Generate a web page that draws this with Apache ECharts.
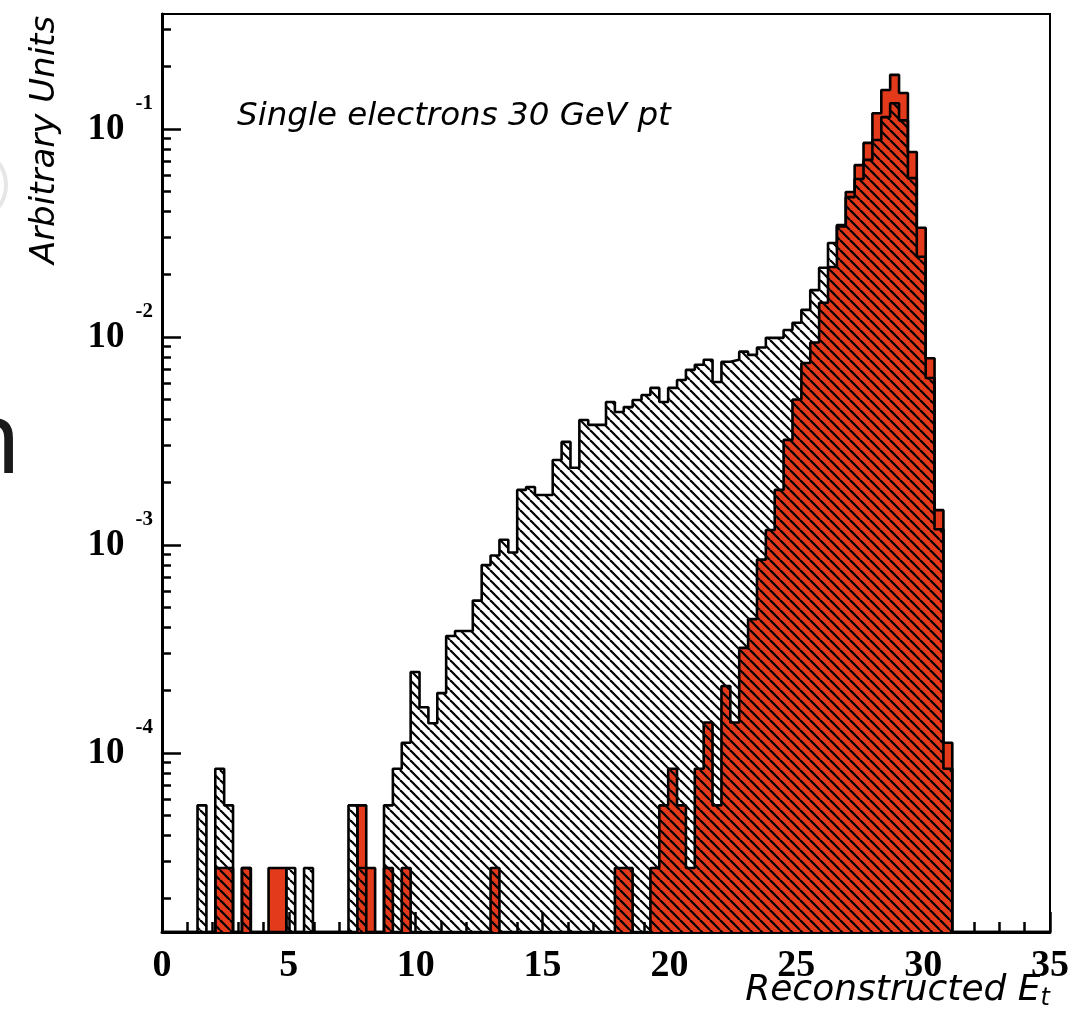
<!DOCTYPE html>
<html><head><meta charset="utf-8">
<script src="https://cdn.jsdelivr.net/npm/echarts@6/dist/echarts.min.js"></script>
<style>html,body{margin:0;padding:0;background:#fff}#c{width:1085px;height:1011px}</style>
</head><body><div id="c"></div>
<script>
// ---- data (100 bins of 0.35 GeV from 0 to 35) ----
const BIN_START = 0;
const BIN_WIDTH = 0.35;
// white hatched histogram
const WHITE = [
  0, 0, 0, 0, 5.6e-5, 0, 8.4e-5, 5.6e-5, 0, 2.8e-5,
  0, 0, 0, 0, 2.8e-5, 0, 2.8e-5, 0, 0, 0,
  0, 5.6e-5, 2.8e-5, 0, 0, 5.6e-5, 8.4e-5, 1.12e-4, 2.45e-4, 1.66e-4,
  1.39e-4, 1.94e-4, 3.65e-4, 3.86e-4, 3.86e-4, 5.4e-4, 8.0e-4, 8.9e-4, 1.06e-3, 9.2e-4,
  1.84e-3, 1.9e-3, 1.74e-3, 1.74e-3, 2.56e-3, 3.13e-3, 2.35e-3, 3.99e-3, 3.78e-3, 3.78e-3,
  4.87e-3, 4.36e-3, 4.6e-3, 4.98e-3, 5.26e-3, 5.69e-3, 4.87e-3, 5.69e-3, 6.21e-3, 6.95e-3,
  7.35e-3, 7.77e-3, 6.07e-3, 7.6e-3, 7.77e-3, 8.5e-3, 8.2e-3, 8.9e-3, 9.9e-3, 9.9e-3,
  1.08e-2, 1.17e-2, 1.35e-2, 1.68e-2, 2.15e-2, 2.83e-2, 3.4e-2, 4.7e-2, 5.75e-2, 7.1e-2,
  8.85e-2, 0.114, 0.133, 0.11, 5.8e-2, 2.43e-2, 6.35e-3, 1.19e-3, 8.4e-5, 0,
  0, 0, 0, 0, 0, 0, 0, 0, 0, 0
];
// solid red histogram
const RED = [
  0, 0, 0, 0, 0, 0, 2.8e-5, 2.8e-5, 0, 2.8e-5,
  0, 0, 2.8e-5, 2.8e-5, 0, 0, 0, 0, 0, 0,
  0, 0, 5.6e-5, 2.8e-5, 0, 2.8e-5, 0, 2.8e-5, 0, 0,
  0, 0, 0, 0, 0, 0, 0, 2.8e-5, 0, 0,
  0, 0, 0, 0, 0, 0, 0, 0, 0, 0,
  0, 2.8e-5, 2.8e-5, 0, 0, 2.8e-5, 5.6e-5, 8.4e-5, 5.6e-5, 2.8e-5,
  8.4e-5, 1.4e-4, 5.6e-5, 2.1e-4, 1.4e-4, 3.2e-4, 4.4e-4, 8.5e-4, 1.18e-3, 1.84e-3,
  3.2e-3, 5.0e-3, 7.5e-3, 9.4e-3, 1.46e-2, 2.17e-2, 3.45e-2, 4.98e-2, 6.7e-2, 8.57e-2,
  0.119, 0.154, 0.182, 0.149, 7.75e-2, 3.35e-2, 7.9e-3, 1.47e-3, 1.12e-4, 0,
  0, 0, 0, 0, 0, 0, 0, 0, 0, 0
];
const X_MIN = 0, X_MAX = 35, X_STEP = 5;
const Y_MIN = 1.378e-5, Y_MAX = 0.357;
const Y_MAJOR = [1e-4, 1e-3, 1e-2, 1e-1];
const Y_MINOR = [2e-5,3e-5,4e-5,5e-5,6e-5,7e-5,8e-5,9e-5,
  2e-4,3e-4,4e-4,5e-4,6e-4,7e-4,8e-4,9e-4,
  2e-3,3e-3,4e-3,5e-3,6e-3,7e-3,8e-3,9e-3,
  2e-2,3e-2,4e-2,5e-2,6e-2,7e-2,8e-2,9e-2,
  2e-1,3e-1];
const TITLE = 'Single electrons 30 GeV pt';
const X_TITLE = 'Reconstructed E';
const X_TITLE_SUB = 't';
const Y_TITLE = 'Arbitrary Units';

// ---- build ----
function stepPoints(vals) {
  const pts = [];
  for (let i = 0; i < vals.length; i++) {
    pts.push([BIN_START + i * BIN_WIDTH, vals[i] > 0 ? vals[i] : Y_MIN]);
  }
  const last = vals[vals.length - 1];
  pts.push([BIN_START + vals.length * BIN_WIDTH, last > 0 ? last : Y_MIN]);
  return pts;
}
function hatchCanvas(P, lw) {
  const c = document.createElement('canvas');
  c.width = P; c.height = P;
  const g = c.getContext('2d');
  g.strokeStyle = '#000'; g.lineWidth = lw;
  for (let k = -1; k <= 1; k++) {
    g.beginPath(); g.moveTo(k * P, 0); g.lineTo(k * P + P, P); g.stroke();
  }
  return c;
}
const hatch = { image: hatchCanvas(10, 2.2), repeat: 'repeat' };
const RED_COLOR = '#e33a1c';
const serif = '"Liberation Serif", "Times New Roman", serif';
const sans = '"DejaVu Sans", sans-serif';

const chart = echarts.init(document.getElementById('c'), null, { renderer: 'canvas' });
chart.setOption({
  animation: false,
  backgroundColor: '#fff',
  grid: { left: 162, top: 14, width: 888, height: 918, show: true, borderColor: '#000', borderWidth: 2, backgroundColor: 'transparent' },
  xAxis: {
    type: 'value', min: X_MIN, max: X_MAX, interval: X_STEP,
    axisLine: { show: true, onZero: false, lineStyle: { color: '#000', width: 3 } },
    axisTick: { show: true, inside: true, length: 20, lineStyle: { color: '#000', width: 2.5 } },
    minorTick: { show: true, splitNumber: 5, length: 10, lineStyle: { color: '#000', width: 2.5 } },
    axisLabel: { color: '#000', fontFamily: serif, fontWeight: 'bold', fontSize: 38, margin: 15 },
    splitLine: { show: false }
  },
  yAxis: [{
    type: 'log', logBase: 10, min: Y_MIN, max: Y_MAX,
    axisLine: { show: true, onZero: false, lineStyle: { color: '#000', width: 3 } },
    axisTick: { show: true, inside: true, length: 19, customValues: Y_MAJOR, lineStyle: { color: '#000', width: 2.5 } },
    axisLabel: {
      customValues: Y_MAJOR, margin: 9, color: '#000',
      formatter: function (v) {
        const e = Math.log10(v), r = Math.round(e);
        if (Math.abs(e - r) > 1e-6) return '';
        return '{b|10}{s|' + r + '}';
      },
      rich: {
        b: { fontFamily: serif, fontWeight: 'bold', fontSize: 37, lineHeight: 72, verticalAlign: 'middle', color: '#000' },
        s: { fontFamily: serif, fontWeight: 'bold', fontSize: 21, verticalAlign: 'top', padding: [0, 0, 0, 11], color: '#000' }
      }
    },
    splitLine: { show: false }
  }, {
    type: 'log', logBase: 10, min: Y_MIN, max: Y_MAX, position: 'left',
    axisLine: { show: false },
    axisTick: { show: true, inside: true, length: 9, customValues: Y_MINOR, lineStyle: { color: '#000', width: 2.5 } },
    axisLabel: { show: false },
    splitLine: { show: false }
  }],
  series: [{
    name: 'red', type: 'line', step: 'end', yAxisIndex: 0, symbol: 'none', z: 2,
    data: stepPoints(RED),
    lineStyle: { color: '#000', width: 2.6 },
    areaStyle: { color: RED_COLOR, opacity: 1, origin: 'start' }
  }, {
    name: 'white', type: 'line', step: 'end', yAxisIndex: 0, symbol: 'none', z: 3,
    data: stepPoints(WHITE),
    lineStyle: { color: '#000', width: 2.6 },
    areaStyle: { color: hatch, opacity: 1, origin: 'start' }
  }],
  graphic: [
    { type: 'text', x: 237, y: 117, style: { text: TITLE, font: 'italic 32.5px ' + sans, fill: '#000', align: 'left', verticalAlign: 'middle' } },
    { type: 'text', x: 1050, y: 991, style: {
        text: '{a|' + X_TITLE + '}{t|' + X_TITLE_SUB + '}', align: 'right', verticalAlign: 'middle',
        rich: {
          a: { fontFamily: sans, fontStyle: 'italic', fontSize: 36, lineHeight: 40, verticalAlign: 'middle', fill: '#000', color: '#000' },
          t: { fontFamily: sans, fontStyle: 'italic', fontSize: 24, verticalAlign: 'bottom', fill: '#000', color: '#000' }
        } } },
    { type: 'text', x: 45, y: 140, rotation: Math.PI / 2, style: { text: Y_TITLE, font: 'italic 34px ' + sans, fill: '#000', align: 'center', verticalAlign: 'middle' } },
    { type: 'text', x: 21, y: 445, style: { text: 'n', font: '100px "Noto Sans"', fill: '#1a1a1a', align: 'right', verticalAlign: 'middle' } },
    { type: 'circle', shape: { cx: -30, cy: 185, r: 36 }, style: { fill: 'none', stroke: '#e6e6e6', lineWidth: 4 } }
  ]
});
</script></body></html>
